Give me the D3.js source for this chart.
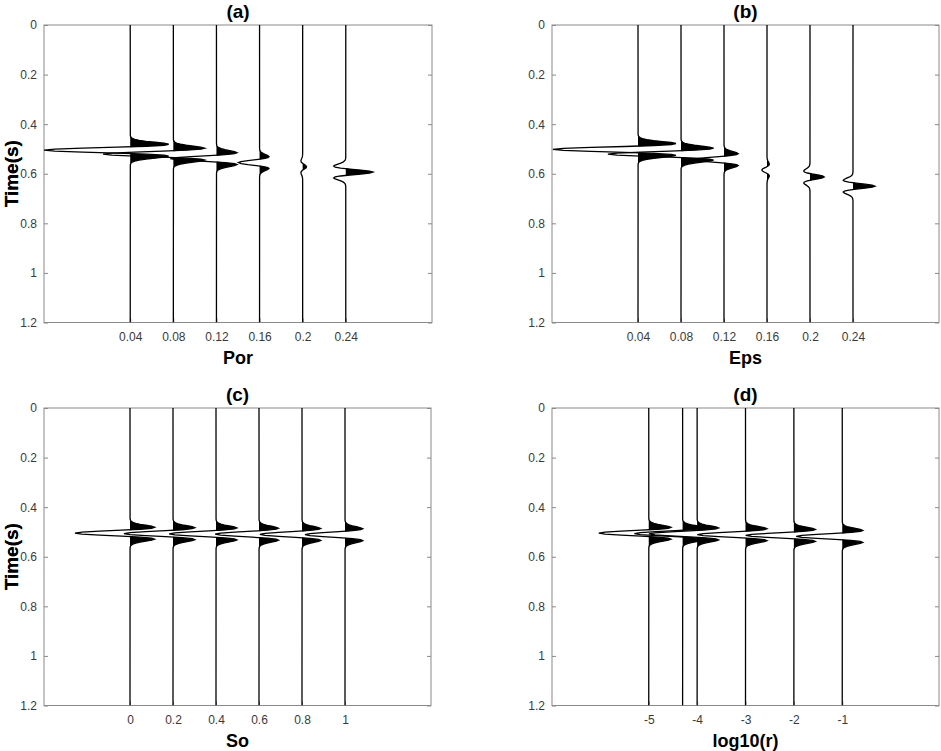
<!DOCTYPE html>
<html><head><meta charset="utf-8">
<script src="https://cdn.jsdelivr.net/npm/d3@7"></script>
<style>
body{margin:0;background:#fff}
svg{display:block}
text{font-family:"Liberation Sans",Arial,Helvetica,sans-serif}
</style>
</head><body>
<svg id="chart" width="941" height="751"></svg>
<script>
// ---- data ----
const timeTicks = [0, 0.2, 0.4, 0.6, 0.8, 1, 1.2];
const timeTickLabels = ["0", "0.2", "0.4", "0.6", "0.8", "1", "1.2"];

// source wavelet samples (dt = 4 ms, centred)
const waveletDt = 0.004;
const wavelet = [-0.0012,-0.0035,-0.0095,-0.0233,-0.0518,-0.1032,-0.1834,-0.2875,-0.3909,-0.4457,-0.3924,-0.1889,0.1536,0.5524,0.8756,1,0.8756,0.5524,0.1536,-0.1889,-0.3924,-0.4457,-0.3909,-0.2875,-0.1834,-0.1032,-0.0518,-0.0233,-0.0095,-0.0035,-0.0012];

// (a) porosity
const porValues = [0.04, 0.08, 0.12, 0.16, 0.2, 0.24];
const porTickLabels = ["0.04", "0.08", "0.12", "0.16", "0.2", "0.24"];
const porAmplitude = [-2.0, -1.63, -1.07, -0.49, 0.09, 0.63];
const porTime = [0.505, 0.521, 0.539, 0.555, 0.572, 0.593];

// (b) epsilon
const epsValues = [0.04, 0.08, 0.12, 0.16, 0.2, 0.24];
const epsTickLabels = ["0.04", "0.08", "0.12", "0.16", "0.2", "0.24"];
const epsAmplitude = [-1.98, -1.70, -0.74, -0.12, 0.33, 0.51];
const epsTime = [0.502, 0.521, 0.543, 0.585, 0.613, 0.65];

// (c) oil saturation
const soValues = [0, 0.2, 0.4, 0.6, 0.8, 1];
const soTickLabels = ["0", "0.2", "0.4", "0.6", "0.8", "1"];
const soAmplitude = [-1.28, -1.14, -1.09, -1.02, -0.98, -0.93];
const soTime = [0.505, 0.507, 0.508, 0.509, 0.51, 0.511];

// (d) log10(r)
const logrValues = [-5, -4.3, -4, -3, -2, -1];
const logrTicks = [-5, -4, -3, -2, -1];
const logrTickLabels = ["-5", "-4", "-3", "-2", "-1"];
const logrAmplitude = [-1.16, -1.12, -1.12, -1.12, -1.12, -1.07];
const logrTime = [0.505, 0.507, 0.508, 0.511, 0.514, 0.518];

// ---- panels ----
const panels = [
  {title: "(a)", xlabel: "Por", pos: porValues, amp: porAmplitude, time: porTime,
   ticks: porValues, labels: porTickLabels, domain: [-0.04, 0.32], gain: 0.04,
   box: {x: 44, y: 25, w: 388, h: 297.5}},
  {title: "(b)", xlabel: "Eps", pos: epsValues, amp: epsAmplitude, time: epsTime,
   ticks: epsValues, labels: epsTickLabels, domain: [-0.04, 0.32], gain: 0.04,
   box: {x: 552, y: 25, w: 387, h: 297.5}},
  {title: "(c)", xlabel: "So", pos: soValues, amp: soAmplitude, time: soTime,
   ticks: soValues, labels: soTickLabels, domain: [-0.4, 1.4], gain: 0.2,
   box: {x: 44, y: 408, w: 387, h: 297.5}},
  {title: "(d)", xlabel: "log10(r)", pos: logrValues, amp: logrAmplitude, time: logrTime,
   ticks: logrTicks, labels: logrTickLabels, domain: [-7, 1], gain: 0.89,
   box: {x: 552, y: 408, w: 387, h: 297.5}}
];

const svg = d3.select("#chart");
const half = (wavelet.length - 1) / 2;

panels.forEach((p, pi) => {
  const b = p.box;
  const g = svg.append("g").attr("transform", `translate(${b.x},${b.y})`);
  const x = d3.scaleLinear().domain(p.domain).range([0, b.w]);
  const y = d3.scaleLinear().domain([0, 1.2]).range([0, b.h]);

  const clipId = "clip" + pi;
  g.append("clipPath").attr("id", clipId)
    .append("rect").attr("x", 0).attr("y", 0).attr("width", b.w).attr("height", b.h);

  // y axis (left, ticks inward)
  const yAxis = d3.axisLeft(y).tickValues(timeTicks)
    .tickFormat((d, i) => timeTickLabels[i]).tickSize(-4).tickPadding(7);
  const ya = g.append("g").call(yAxis);
  ya.select(".domain").remove();
  ya.selectAll(".tick line").attr("stroke", "#888");
  ya.selectAll("text").attr("fill", "#3a3a3a").style("font-size", "12px");
  // mirrored ticks on the right
  const yr = g.append("g").attr("transform", `translate(${b.w},0)`)
    .call(d3.axisRight(y).tickValues(timeTicks).tickSize(-4).tickFormat(""));
  yr.select(".domain").remove();
  yr.selectAll(".tick line").attr("stroke", "#888");

  // x axis (bottom)
  const xAxis = d3.axisBottom(x).tickValues(p.ticks)
    .tickFormat((d, i) => p.labels[i]).tickSize(-4).tickPadding(10);
  const xa = g.append("g").attr("transform", `translate(0,${b.h})`).call(xAxis);
  xa.select(".domain").remove();
  xa.selectAll(".tick line").attr("stroke", "#888");
  xa.selectAll("text").attr("fill", "#3a3a3a").style("font-size", "12px");

  // box
  g.append("rect").attr("x", 0).attr("y", 0).attr("width", b.w).attr("height", b.h)
    .attr("fill", "none").attr("stroke", "#8a8a8a").attr("stroke-width", 1);

  // traces
  const traces = g.append("g").attr("clip-path", `url(#${clipId})`);
  p.pos.forEach((pos, i) => {
    const amp = p.amp[i] * p.gain;
    const t0 = p.time[i];
    const samples = wavelet.map((w, k) => ({t: t0 + (k - half) * waveletDt, v: amp * w}));
    const area = d3.area()
      .y(d => y(d.t))
      .x0(() => x(pos))
      .x1(d => x(pos + Math.max(0, d.v)));
    traces.append("path").datum(samples).attr("d", area).attr("fill", "#000");
    const pts = [{t: 0, v: 0}, ...samples, {t: 1.2, v: 0}];
    const line = d3.line().x(d => x(pos + d.v)).y(d => y(d.t));
    traces.append("path").datum(pts).attr("d", line)
      .attr("fill", "none").attr("stroke", "#000").attr("stroke-width", 1.3);
  });

  // title
  g.append("text").attr("x", b.w / 2).attr("y", -7).attr("text-anchor", "middle")
    .style("font-size", "19px").style("font-weight", "bold").attr("fill", "#000").text(p.title);
  // x label
  g.append("text").attr("x", b.w / 2).attr("y", b.h + 41.5).attr("text-anchor", "middle")
    .style("font-size", "18px").style("font-weight", "bold").attr("fill", "#000").text(p.xlabel);
  // y label
  g.append("text").attr("transform", `translate(${-b.x + 18},${b.h / 2}) rotate(-90)`)
    .attr("text-anchor", "middle")
    .style("font-size", "19px").style("font-weight", "bold").attr("fill", "#000").text("Time(s)");
});
</script>
</body></html>
